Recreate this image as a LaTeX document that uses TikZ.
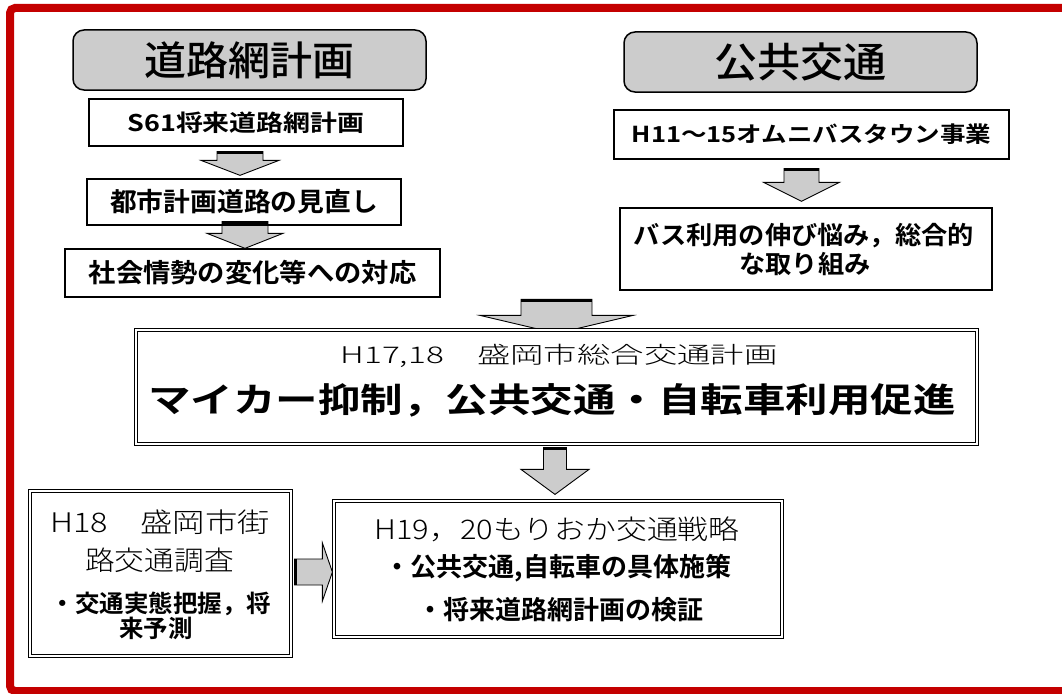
\documentclass[tikz,border=0pt]{standalone}
\usepackage{fontspec}
\usepackage{graphicx}
\usetikzlibrary{calc,backgrounds}
\IfFontExistsTF{Noto Sans CJK JP Bold}{\newfontfamily\jpb{Noto Sans CJK JP Bold}}{\newfontfamily\jpb{Noto Sans CJK JP}[FakeBold=2]}
\IfFontExistsTF{Noto Sans CJK JP Light}{\newfontfamily\jpl{Noto Sans CJK JP Light}}{\newfontfamily\jpl{Noto Sans CJK JP}}
\IfFontExistsTF{Noto Sans CJK JP Medium}{\newfontfamily\jpm{Noto Sans CJK JP Medium}}{\newfontfamily\jpm{Noto Sans CJK JP}}
\definecolor{framered}{RGB}{196,0,0}
\definecolor{stip}{gray}{0.80}
\newcommand\hs[2]{\scalebox{#1}[1]{#2}}
\newcommand\fs[1]{\fontsize{#1}{#1}\selectfont}
\tikzset{
  sbox/.style={draw, line width=1.3pt, inner sep=0pt},
  dbox/.style={draw, double, double distance=2.2pt, line width=1.2pt, inner sep=0pt},
  tbox/.style={draw, line width=1.5pt, rounded corners=11pt, fill=stip, inner sep=0pt},
  txt/.style={inner sep=0pt},
  arr/.style={draw, line width=0.9pt, fill=stip, line join=miter},
  bar/.style={draw, line width=3pt},
}
% down block arrow: #1 top point, #2 tip point, #3 shaft half width, #4 head half width, #5 head length
\newcommand\dnarrow[5]{%
  \path[arr] let \p1=(#1), \p2=(#2) in
    (\x2-#3pt,\y1) -- (\x2+#3pt,\y1) -- (\x2+#3pt,\y2+#5pt) -- (\x2+#4pt,\y2+#5pt)
    -- (\x2,\y2) -- (\x2-#4pt,\y2+#5pt) -- (\x2-#3pt,\y2+#5pt) -- cycle;
  \path[bar] let \p1=(#1), \p2=(#2) in (\x2-#3pt,\y1-1pt) -- (\x2+#3pt,\y1-1pt);}
% right block arrow: #1 start point, #2 tip point, #3 shaft half, #4 head half, #5 head length
\newcommand\rtarrow[5]{%
  \path[arr] let \p1=(#1), \p2=(#2) in
    (\x1,\y2+#3pt) -- (\x2-#5pt,\y2+#3pt) -- (\x2-#5pt,\y2+#4pt) -- (\x2,\y2)
    -- (\x2-#5pt,\y2-#4pt) -- (\x2-#5pt,\y2-#3pt) -- (\x1,\y2-#3pt) -- cycle;
  \path[draw, line width=2pt] let \p1=(#1), \p2=(#2) in (\x1+1pt,\y2+#3pt) -- (\x1+1pt,\y2-#3pt);}
\begin{document}
\begin{tikzpicture}[x=1pt,y=-1pt]
\useasboundingbox (0,0) rectangle (1062,693);
\draw[framered, line width=8pt, rounded corners=5pt] (1080,8) -- (10,8) -- (10,691) -- (1080,691);

\node[tbox, minimum width=353, minimum height=60, font=\jpm\fs{40}] (t1) at (249.5,60) {\hs{1.05}{道路網計画}};
\node[tbox, minimum width=353, minimum height=60, font=\jpm\fs{41}] (t2) at (800.5,62) {\hs{1.05}{公共交通}};

\node[sbox, minimum width=314, minimum height=47, font=\jpb\fs{23}] (b1) at (246,122.5) {\hs{1.17}{S61将来道路網計画}};
\node[sbox, minimum width=314, minimum height=46, font=\jpb\fs{26}] (b2) at (244,202) {\hs{1.03}{都市計画道路の見直し}};
\node[sbox, minimum width=375, minimum height=48, font=\jpb\fs{26}] (b3) at (252.5,273) {\hs{1.05}{社会情勢の変化等への対応}};

\node[sbox, minimum width=395, minimum height=49, font=\jpb\fs{22}] (r1) at (811.5,134.5) {\hs{1.16}{H11〜15オムニバスタウン事業}};
\node[sbox, minimum width=372, minimum height=82] (r2) at (806,249) {};
\node[txt, font=\jpb\fs{25}] (r2a) at (804,236) {\hs{1.05}{バス利用の伸び悩み，総合的}};
\node[txt, font=\jpb\fs{25}] (r2b) at (805,264) {\hs{1.05}{な取り組み}};

\node[dbox, fill=white, minimum width=841, minimum height=114] (main) at (556.5,387) {};
\node[txt, font=\jpl\fs{23}] (m1) at (559,356) {\hs{1.45}{H17,18　盛岡市総合交通計画}};
\node[txt, font=\jpb\fs{34}] (m2) at (552,400) {\hs{1.25}{マイカー抑制，公共交通・自転車利用促進}};

\node[dbox, minimum width=261, minimum height=165] (h18) at (160.5,573.5) {};
\node[txt, font=\jpl\fs{27}] (h18a) at (160,522) {\hs{1.2}{H18　盛岡市街}};
\node[txt, font=\jpl\fs{27}] (h18b) at (159.5,560) {\hs{1.1}{路交通調査}};
\node[txt, font=\jpb\fs{24}] (h18c) at (161,604) {\hs{1.02}{・交通実態把握，将}};
\node[txt, font=\jpb\fs{24}] (h18d) at (156,628) {\hs{1.02}{来予測}};

\node[dbox, minimum width=448, minimum height=136] (h19) at (558,569) {};
\node[txt, font=\jpl\fs{27}] (h19a) at (557,529.5) {\hs{1.14}{H19，20もりおか交通戦略}};
\node[txt, font=\jpb\fs{26}] (h19b) at (558,568) {・公共交通,自転車の具体施策};
\node[txt, font=\jpb\fs{26}] (h19c) at (560,610) {・将来道路網計画の検証};

\begin{scope}[on background layer]
\dnarrow{$(b1.south)+(-6,5)$}{$(b2.north)+(-4,-3)$}{23}{39}{15}
\dnarrow{$(b2.south)+(1,-4)$}{$(b3.north)+(-7.5,0)$}{23}{38}{15}
\dnarrow{$(r1.south)+(-10,9)$}{$(r2.north)+(-4.5,-6)$}{17.5}{38}{19}
\dnarrow{$(main.north)+(0,-30)$}{$(main.north)+(0,4)$}{35.5}{76.5}{18}
\dnarrow{$(main.south)+(-1.5,3)$}{$(h19.north)+(-3,-6)$}{11.5}{34}{25}
\rtarrow{$(h18.east)+(3,-1.5)$}{$(h19.west)+(-1,3)$}{13}{29}{10}
\end{scope}
\end{tikzpicture}
\end{document}
